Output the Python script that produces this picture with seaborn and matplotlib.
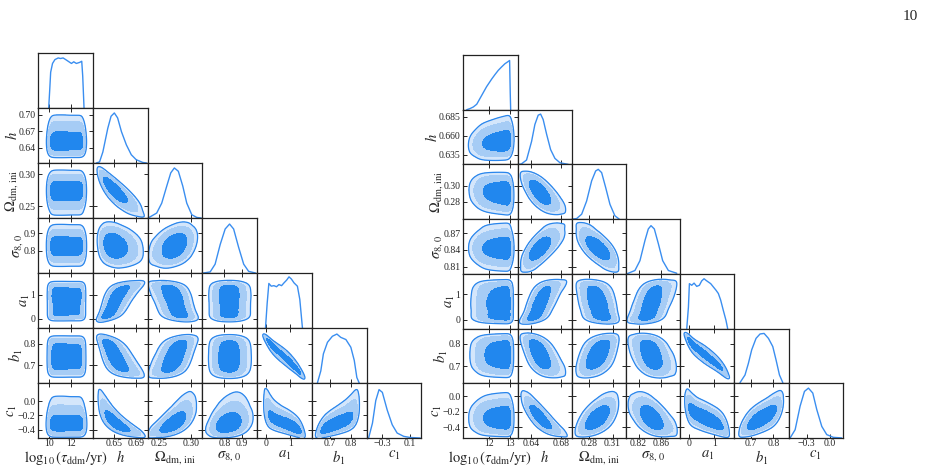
import numpy as np
import matplotlib
matplotlib.use("Agg")
import matplotlib.pyplot as plt
import matplotlib.ticker as mticker
import seaborn as sns
from statistics import NormalDist

# parameter labels (same for both triangles)
labels = [r"$\log_{10}(\tau_{\rm ddm}/{\rm yr})$", r"$h$", r"$\Omega_{\rm dm,\,ini}$",
          r"$\sigma_{8,\,0}$", r"$a_1$", r"$b_1$", r"$c_1$"]

# ---------------- left triangle ----------------
left_ranges = [(9.0, 14.0), (0.612, 0.712), (0.232, 0.317), (0.675, 0.985),
               (-0.38, 1.9), (0.617, 0.872), (-0.52, 0.26)]
left_xticks = [[10, 12], [0.65, 0.69], [0.25, 0.30], [0.8, 0.9], [0, 1], [0.7, 0.8], [-0.3, 0.1]]
left_yticks = [[], [0.64, 0.67, 0.70], [0.25, 0.30], [0.8, 0.9], [0, 1], [0.7, 0.8], [-0.4, -0.2, 0.0]]
left_xfmt = ["%g", "%.2f", "%.2f", "%.1f", "%g", "%.1f", "%.1f"]
left_yfmt = ["%g", "%.2f", "%.2f", "%.1f", "%g", "%.1f", "%.1f"]

# 1D marginals (height as fraction of panel)
left_pdf_x = [
    [9.95, 10.05, 10.13, 10.3, 10.52, 10.82, 11.03, 11.27, 11.58, 11.88, 12.03, 12.24, 12.48, 12.79, 12.97, 13.06, 13.18],
    [0.618, 0.624, 0.630, 0.639, 0.645, 0.651, 0.657, 0.664, 0.673, 0.682, 0.691, 0.703, 0.710],
    [0.232, 0.2356, 0.246, 0.2538, 0.2616, 0.2678, 0.2734, 0.2796, 0.2865, 0.2927, 0.3005, 0.3083, 0.315],
    [0.681, 0.719, 0.747, 0.776, 0.804, 0.829, 0.852, 0.880, 0.909, 0.937, 0.976],
    [-0.03, 0.04, 0.11, 0.21, 0.32, 0.43, 0.53, 0.64, 0.74, 0.85, 0.95, 1.05, 1.16, 1.30, 1.40, 1.51],
    [0.643, 0.659, 0.671, 0.690, 0.713, 0.734, 0.752, 0.776, 0.799, 0.815, 0.827, 0.838],
    [-0.49, -0.435, -0.388, -0.341, -0.294, -0.225, -0.153, -0.083, 0.011, 0.10, 0.246],
]
left_pdf_p = [
    [0.0, 0.35, 0.65, 0.81, 0.88, 0.91, 0.90, 0.91, 0.87, 0.83, 0.81, 0.84, 0.81, 0.83, 0.85, 0.58, 0.0],
    [0.0, 0.02, 0.20, 0.63, 0.85, 0.91, 0.82, 0.57, 0.33, 0.15, 0.06, 0.01, 0.0],
    [0.0, 0.02, 0.09, 0.27, 0.58, 0.82, 0.91, 0.85, 0.58, 0.27, 0.06, 0.01, 0.0],
    [0.0, 0.02, 0.16, 0.52, 0.80, 0.89, 0.80, 0.47, 0.16, 0.03, 0.0],
    [0.0, 0.45, 0.81, 0.76, 0.77, 0.75, 0.79, 0.77, 0.82, 0.87, 0.93, 0.89, 0.82, 0.76, 0.52, 0.0],
    [0.0, 0.22, 0.53, 0.74, 0.85, 0.89, 0.83, 0.79, 0.65, 0.41, 0.10, 0.0],
    [0.0, 0.27, 0.68, 0.88, 0.83, 0.51, 0.24, 0.09, 0.03, 0.01, 0.0],
]
# pair correlations, lower triangle (row i, col j<i)
left_rho = [
    [],
    [0.0],
    [0.0, -0.85],
    [0.0, -0.2, 0.35],
    [0.0, 0.75, -0.5, 0.0],
    [0.0, -0.7, 0.55, 0.0, -0.97],
    [0.0, -0.85, 0.7, 0.3, -0.75, 0.7],
]

# ---------------- right triangle ----------------
right_ranges = [(10.79, 13.33), (0.622, 0.694), (0.258, 0.327), (0.797, 0.895),
                (-0.33, 1.78), (0.625, 0.868), (-0.54, 0.17)]
right_xticks = [[12, 13], [0.64, 0.68], [0.28, 0.31], [0.82, 0.86], [0, 1], [0.7, 0.8], [-0.3, 0.0]]
right_yticks = [[], [0.635, 0.66, 0.685], [0.28, 0.30], [0.81, 0.84, 0.87], [0, 1], [0.7, 0.8], [-0.4, -0.2, 0.0]]
right_xfmt = ["%g", "%.2f", "%.2f", "%.2f", "%g", "%.1f", "%.1f"]
right_yfmt = ["%g", "%.3f", "%.2f", "%.2f", "%g", "%.1f", "%.1f"]

right_pdf_x = [
    [10.95, 11.1, 11.26, 11.42, 11.65, 11.88, 12.12, 12.27, 12.43, 12.58, 12.74, 12.89, 12.96, 12.99, 13.01],
    [0.6240, 0.6273, 0.634, 0.6407, 0.6451, 0.6495, 0.6527, 0.6561, 0.6607, 0.666, 0.6717, 0.6784, 0.6895],
    [0.259, 0.2643, 0.2707, 0.2770, 0.2834, 0.2885, 0.2918, 0.2961, 0.3012, 0.3067, 0.3130, 0.3185],
    [0.7985, 0.8012, 0.8133, 0.8224, 0.8315, 0.8375, 0.8424, 0.8484, 0.8557, 0.8635, 0.8738, 0.889],
    [-0.071, -0.006, 0.032, 0.123, 0.214, 0.317, 0.421, 0.511, 0.602, 0.68, 0.77, 0.861, 0.964, 1.068,
     1.159, 1.249, 1.353, 1.456, 1.521],
    [0.6505, 0.673, 0.688, 0.703, 0.7225, 0.7405, 0.7585, 0.778, 0.7975, 0.8125, 0.8275, 0.8425],
    [-0.518, -0.453, -0.388, -0.331, -0.279, -0.222, -0.17, -0.104, -0.039, 0.048, 0.157],
]
right_pdf_p = [
    [0.0, 0.02, 0.05, 0.10, 0.26, 0.42, 0.56, 0.64, 0.72, 0.78, 0.84, 0.88, 0.90, 0.30, 0.0],
    [0.0, 0.01, 0.08, 0.42, 0.73, 0.90, 0.92, 0.82, 0.55, 0.27, 0.11, 0.03, 0.0],
    [0.0, 0.01, 0.09, 0.33, 0.70, 0.88, 0.91, 0.85, 0.58, 0.27, 0.06, 0.0],
    [0.0, 0.01, 0.06, 0.24, 0.61, 0.82, 0.88, 0.82, 0.55, 0.24, 0.06, 0.01],
    [0.0, 0.39, 0.82, 0.79, 0.83, 0.77, 0.79, 0.87, 0.91, 0.88, 0.85, 0.82, 0.76, 0.70,
     0.64, 0.52, 0.33, 0.15, 0.0],
    [0.01, 0.15, 0.36, 0.61, 0.82, 0.90, 0.91, 0.82, 0.67, 0.42, 0.15, 0.01],
    [0.0, 0.15, 0.58, 0.85, 0.91, 0.82, 0.52, 0.21, 0.06, 0.01, 0.0],
]
right_rho = [
    [],
    [0.15],
    [-0.1, -0.7],
    [0.0, 0.7, -0.7],
    [0.0, 0.7, -0.4, 0.5],
    [0.0, -0.6, 0.5, -0.4, -0.95],
    [0.0, -0.85, 0.6, -0.55, -0.7, 0.7],
]

# ---------------- style ----------------
W, H = 939, 471
NG = 160
C_LIGHT, C_MID, C_DARK = "#d4e6fb", "#a6ccf5", "#2187ee"
C_EDGE = "#2a86ec"
C_LINE = "#3a8ef0"

sns.set_style("ticks")
plt.rcParams["font.family"] = ["Liberation Serif", "DejaVu Serif"]
plt.rcParams["mathtext.fontset"] = "stix"
plt.rcParams["axes.unicode_minus"] = True

nd = NormalDist()


def gauss_kernel(s, half):
    k = np.arange(-half, half + 1)
    k = np.exp(-0.5 * (k / s) ** 2)
    return k / k.sum()


def marginal(rng, xs, ps):
    g = np.linspace(rng[0], rng[1], NG)
    p = np.interp(g, xs, ps, left=0.0, right=0.0)
    # soften the wiggles of the flat tops for the 2D panels
    p = np.convolve(p, gauss_kernel(4.5, 13), mode="same") + 1e-7
    c = np.cumsum(p)
    u = (c - 0.5 * p) / c[-1]
    z = np.array([nd.inv_cdf(min(max(v, 1e-4), 1 - 1e-4)) for v in u])
    return g, p, z


def smooth(d, s=2.8):
    k = gauss_kernel(s, 9)
    d = np.apply_along_axis(lambda r: np.convolve(r, k, mode="same"), 0, d)
    d = np.apply_along_axis(lambda r: np.convolve(r, k, mode="same"), 1, d)
    return d


def hpd(d, masses):
    flat = np.sort(d.ravel())[::-1]
    cum = np.cumsum(flat)
    cum /= cum[-1]
    return [flat[min(np.searchsorted(cum, m), flat.size - 1)] for m in masses]


def fmt(f):
    return mticker.FuncFormatter(lambda v, pos: (f % v).replace("-", "\u2212"))


def draw_set(fig, x0, y0, cw, rh, ranges, pdf_x, pdf_p, rho, xticks, yticks, xfmt, yfmt):
    n = len(labels)
    margs = [marginal(ranges[k], pdf_x[k], pdf_p[k]) for k in range(n)]
    for i in range(n):
        for j in range(i + 1):
            ax = fig.add_axes([(x0 + j * cw) / W, 1 - (y0 + (i + 1) * rh) / H, cw / W, rh / H])
            ax.set_xlim(*ranges[j])
            ax.set_xticks(xticks[j])
            ax.xaxis.set_major_formatter(fmt(xfmt[j]))
            if i == j:
                sns.lineplot(x=pdf_x[j], y=pdf_p[j], ax=ax, color=C_LINE, lw=1.0)
                ax.set_ylim(0, 1)
                ax.set_yticks([])
                ax.tick_params(axis="x", direction="in", length=3, width=0.7, top=False)
            else:
                gx, px, zx = margs[j]
                gy, py, zy = margs[i]
                r = rho[i][j]
                a, b = np.meshgrid(zx, zy)
                cop = np.exp(-(r * r * (a * a + b * b) - 2 * r * a * b) / (2 * (1 - r * r))) / np.sqrt(1 - r * r)
                dens = smooth(np.outer(py, px) * cop)
                t3, t2, t1 = hpd(dens, [0.99, 0.95, 0.68])
                ax.contourf(gx, gy, dens, levels=[t3, t2, t1, dens.max() * 1.01],
                            colors=[C_LIGHT, C_MID, C_DARK])
                ax.contour(gx, gy, dens, levels=[t3], colors=[C_EDGE], linewidths=0.9)
                ax.set_ylim(*ranges[i])
                ax.set_yticks(yticks[i])
                ax.yaxis.set_major_formatter(fmt(yfmt[i]))
                ax.tick_params(direction="in", length=3, width=0.7, top=True, right=True)
            ax.tick_params(labelsize=7)
            ax.tick_params(axis="x", pad=0.8)
            ax.tick_params(axis="y", pad=2)
            if j > 0 or i == 0:
                ax.tick_params(labelleft=False)
            else:
                ax.set_ylabel(labels[i], fontsize=10.5, labelpad=-1)
            if i < n - 1:
                ax.tick_params(labelbottom=False)
            else:
                ax.set_xlabel(labels[j], fontsize=10.5, labelpad=0.8)
            for sp in ax.spines.values():
                sp.set_color("#222222")
                sp.set_linewidth(0.9)
                sp.set_visible(True)


fig = plt.figure(figsize=(W / 100, H / 100), dpi=100)
draw_set(fig, 38.3, 53.0, 54.7, 55.0, left_ranges, left_pdf_x, left_pdf_p, left_rho,
         left_xticks, left_yticks, left_xfmt, left_yfmt)
draw_set(fig, 463.3, 55.0, 54.2, 54.7, right_ranges, right_pdf_x, right_pdf_p, right_rho,
         right_xticks, right_yticks, right_xfmt, right_yfmt)
fig.text(910 / W, 1 - 16 / H, "10", fontsize=11, ha="center", va="center")
fig.savefig("out.png", dpi=100)
